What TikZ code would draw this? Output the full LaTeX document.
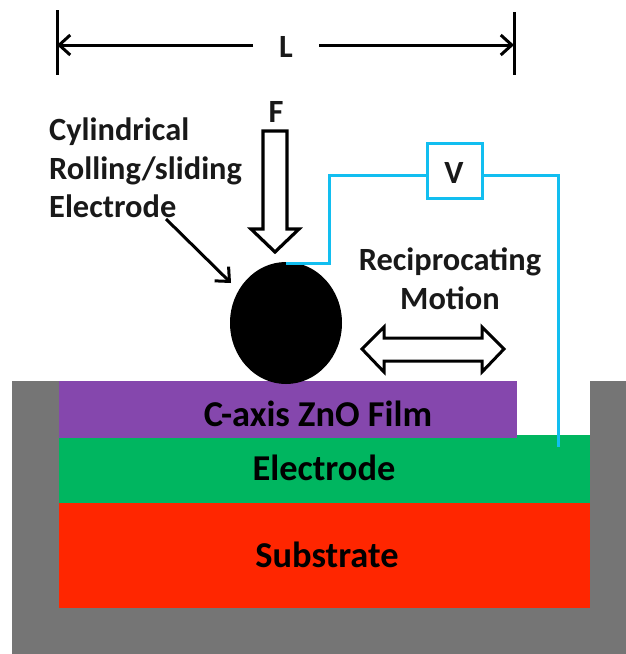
\documentclass[tikz,border=0pt]{standalone}
\usepackage{fontspec}
\setmainfont{Carlito}
\usetikzlibrary{arrows.meta,shapes.geometric}
\definecolor{casegray}{HTML}{757575}
\definecolor{filmpurple}{HTML}{8547AD}
\definecolor{electgreen}{HTML}{00B660}
\definecolor{subred}{HTML}{FF2600}
\definecolor{wireblue}{HTML}{12BEF0}
\tikzset{
  layerbox/.style={anchor=north west, inner sep=0pt, outer sep=0pt},
  labeltext/.style={anchor=base, inner sep=0pt, text=black!90, font=\bfseries\fontsize{32.4}{38.5}\selectfont},
  layertext/.style={labeltext, text=black, font=\bfseries\fontsize{36.4}{40}\selectfont},
  wireline/.style={draw=wireblue, line width=3pt},
  blackline/.style={draw=black, line width=3pt},
  openarrow/.style={draw=black, fill=white, line width=3.2pt, miter limit=10},
  barbtip/.style={-{Straight Barb[length=11pt,width=20pt,line width=3pt]}}
}

\begin{document}
\begin{tikzpicture}[x=1pt,y=-1pt]
  \useasboundingbox (0,0) rectangle (626,654);

  \fill[casegray] (12,381) -- (59,381) -- (59,608) -- (590,608) -- (590,381)
    -- (626,381) -- (626,654) -- (12,654) -- cycle;
  \node[layerbox, fill=subred, minimum width=531pt, minimum height=105pt] (substrate) at (59,503) {};
  \node[layerbox, fill=electgreen, minimum width=531pt, minimum height=68pt] (electrode) at (59,435) {};
  \node[layerbox, fill=filmpurple, minimum width=458pt, minimum height=57pt] (film) at (59,381) {};

  \node[layertext] (filmlabel) at (318,426) {C-axis ZnO Film};
  \node[layertext] (electlabel) at (324,480) {Electrode};
  \node[layertext] (sublabel) at (327,567) {Substrate};

  \node[fill=black, ellipse, minimum width=112pt, minimum height=122pt, inner sep=0pt, outer sep=0pt] (roller) at (286,323) {};

  % force and motion
  \node[labeltext] (forcelabel) at (276,122) {F};
  \draw[openarrow] (263,131) -- (287,131) -- (287,229) -- (299,229) -- (275,252)
    -- (251,229) -- (263,229) -- cycle;
  \draw[openarrow, line width=3pt] (362,349) -- (384,327) -- (384,338) -- (482,338) -- (482,327) -- (504,349)
    -- (482,372) -- (482,361) -- (384,361) -- (384,372) -- cycle;
  \node[labeltext] (motionlabel) at (450,270) {Reciprocating};
  \node[labeltext] (motionlabelb) at (450,309) {Motion};

  % voltmeter
  \node[draw=wireblue, line width=3pt, minimum width=55pt, minimum height=55pt, inner sep=0pt, outer sep=0pt] (vbox) at (454.5,170.5) {};
  \node[labeltext] (vlabel) at (454,183) {V};
  \coordinate (wirecorner) at (329,175);
  \coordinate (wirecontact) at (558,447);
  \draw[wireline] (roller.north) ++(0,1) -- (329,263) -- (wirecorner) -- (vbox.west |- wirecorner);
  \draw[wireline] (vbox.east |- wirecorner) -- (wirecontact |- wirecorner) -- (wirecontact);

  % length marker
  \node[labeltext] (lenlabel) at (286,57) {L};
  \coordinate (lenleft) at (57,45);
  \coordinate (lenright) at (514,45);
  \draw[blackline] (57,10) -- (57,75);
  \draw[blackline] (514,12) -- (514,75);
  \draw[blackline, barbtip] (253,45) -- (lenleft);
  \draw[blackline, barbtip] (319,45) -- (lenright);

  \node[labeltext, anchor=north west, align=left] (rollerlabel) at (49,118) {Cylindrical\\Rolling/sliding\\Electrode};
  \coordinate (calloutend) at (231,283);
  \draw[blackline, barbtip] (166,219) -- (calloutend);
\end{tikzpicture}
\end{document}
